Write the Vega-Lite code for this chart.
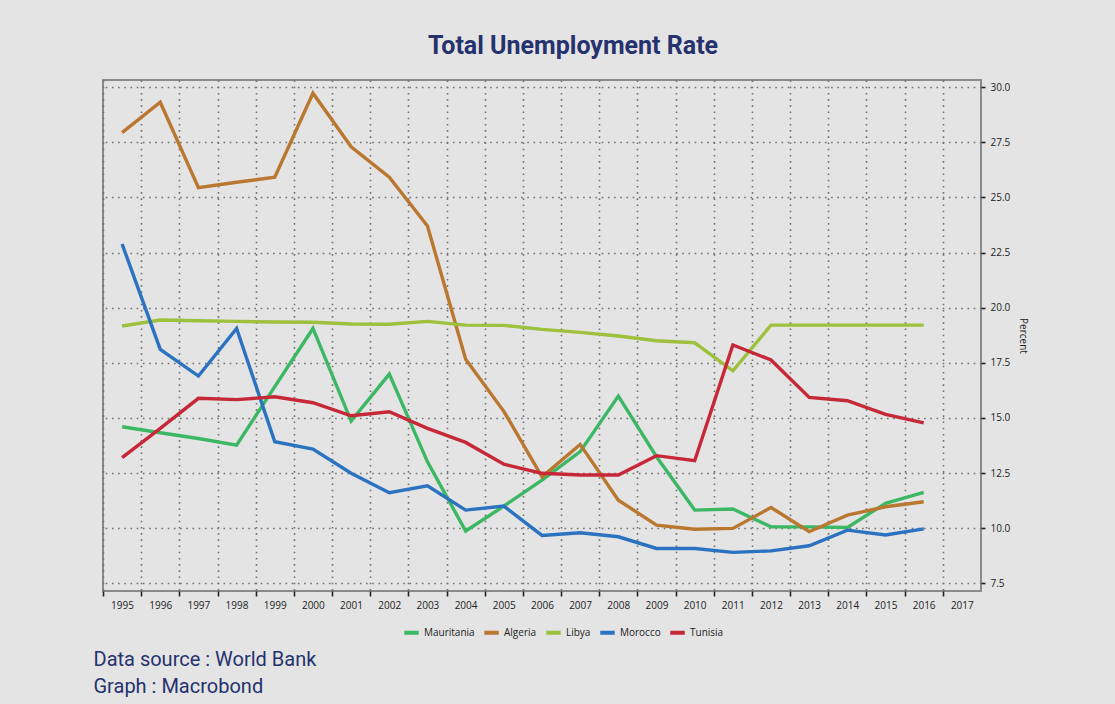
{
  "$schema": "https://vega.github.io/schema/vega-lite/v6.json",
  "autosize": "none",
  "width": 878,
  "height": 511,
  "padding": {"left": 103, "top": 80, "right": 134, "bottom": 113},
  "background": "#e4e4e4",
  "title": {
    "text": "Total Unemployment Rate",
    "font": "Roboto",
    "fontSize": 25,
    "fontWeight": "bold",
    "color": "#25326e",
    "anchor": "middle",
    "frame": "group",
    "dx": 31,
    "offset": 21
  },
  "data": {
    "values": [
      {"country": "Mauritania", "year": 1995, "rate": 14.6},
      {"country": "Mauritania", "year": 1996, "rate": 14.33},
      {"country": "Mauritania", "year": 1997, "rate": 14.07},
      {"country": "Mauritania", "year": 1998, "rate": 13.77},
      {"country": "Mauritania", "year": 1999, "rate": 16.42},
      {"country": "Mauritania", "year": 2000, "rate": 19.06},
      {"country": "Mauritania", "year": 2001, "rate": 14.86},
      {"country": "Mauritania", "year": 2002, "rate": 16.99},
      {"country": "Mauritania", "year": 2003, "rate": 13.01},
      {"country": "Mauritania", "year": 2004, "rate": 9.87},
      {"country": "Mauritania", "year": 2005, "rate": 11.0},
      {"country": "Mauritania", "year": 2006, "rate": 12.18},
      {"country": "Mauritania", "year": 2007, "rate": 13.47},
      {"country": "Mauritania", "year": 2008, "rate": 15.99},
      {"country": "Mauritania", "year": 2009, "rate": 13.24},
      {"country": "Mauritania", "year": 2010, "rate": 10.82},
      {"country": "Mauritania", "year": 2011, "rate": 10.87},
      {"country": "Mauritania", "year": 2012, "rate": 10.06},
      {"country": "Mauritania", "year": 2013, "rate": 10.06},
      {"country": "Mauritania", "year": 2014, "rate": 10.03},
      {"country": "Mauritania", "year": 2015, "rate": 11.13},
      {"country": "Mauritania", "year": 2016, "rate": 11.62},

      {"country": "Algeria", "year": 1995, "rate": 27.94},
      {"country": "Algeria", "year": 1996, "rate": 29.32},
      {"country": "Algeria", "year": 1997, "rate": 25.45},
      {"country": "Algeria", "year": 1998, "rate": 25.69},
      {"country": "Algeria", "year": 1999, "rate": 25.92},
      {"country": "Algeria", "year": 2000, "rate": 29.73},
      {"country": "Algeria", "year": 2001, "rate": 27.3},
      {"country": "Algeria", "year": 2002, "rate": 25.92},
      {"country": "Algeria", "year": 2003, "rate": 23.71},
      {"country": "Algeria", "year": 2004, "rate": 17.66},
      {"country": "Algeria", "year": 2005, "rate": 15.3},
      {"country": "Algeria", "year": 2006, "rate": 12.33},
      {"country": "Algeria", "year": 2007, "rate": 13.8},
      {"country": "Algeria", "year": 2008, "rate": 11.27},
      {"country": "Algeria", "year": 2009, "rate": 10.14},
      {"country": "Algeria", "year": 2010, "rate": 9.95},
      {"country": "Algeria", "year": 2011, "rate": 9.99},
      {"country": "Algeria", "year": 2012, "rate": 10.94},
      {"country": "Algeria", "year": 2013, "rate": 9.84},
      {"country": "Algeria", "year": 2014, "rate": 10.59},
      {"country": "Algeria", "year": 2015, "rate": 10.97},
      {"country": "Algeria", "year": 2016, "rate": 11.2},

      {"country": "Libya", "year": 1995, "rate": 19.17},
      {"country": "Libya", "year": 1996, "rate": 19.44},
      {"country": "Libya", "year": 1997, "rate": 19.41},
      {"country": "Libya", "year": 1998, "rate": 19.38},
      {"country": "Libya", "year": 1999, "rate": 19.35},
      {"country": "Libya", "year": 2000, "rate": 19.34},
      {"country": "Libya", "year": 2001, "rate": 19.26},
      {"country": "Libya", "year": 2002, "rate": 19.25},
      {"country": "Libya", "year": 2003, "rate": 19.38},
      {"country": "Libya", "year": 2004, "rate": 19.21},
      {"country": "Libya", "year": 2005, "rate": 19.2},
      {"country": "Libya", "year": 2006, "rate": 19.02},
      {"country": "Libya", "year": 2007, "rate": 18.88},
      {"country": "Libya", "year": 2008, "rate": 18.72},
      {"country": "Libya", "year": 2009, "rate": 18.5},
      {"country": "Libya", "year": 2010, "rate": 18.41},
      {"country": "Libya", "year": 2011, "rate": 17.14},
      {"country": "Libya", "year": 2012, "rate": 19.21},
      {"country": "Libya", "year": 2013, "rate": 19.21},
      {"country": "Libya", "year": 2014, "rate": 19.21},
      {"country": "Libya", "year": 2015, "rate": 19.21},
      {"country": "Libya", "year": 2016, "rate": 19.21},

      {"country": "Morocco", "year": 1995, "rate": 22.89},
      {"country": "Morocco", "year": 1996, "rate": 18.11},
      {"country": "Morocco", "year": 1997, "rate": 16.9},
      {"country": "Morocco", "year": 1998, "rate": 19.06},
      {"country": "Morocco", "year": 1999, "rate": 13.92},
      {"country": "Morocco", "year": 2000, "rate": 13.59},
      {"country": "Morocco", "year": 2001, "rate": 12.49},
      {"country": "Morocco", "year": 2002, "rate": 11.61},
      {"country": "Morocco", "year": 2003, "rate": 11.92},
      {"country": "Morocco", "year": 2004, "rate": 10.82},
      {"country": "Morocco", "year": 2005, "rate": 11.0},
      {"country": "Morocco", "year": 2006, "rate": 9.67},
      {"country": "Morocco", "year": 2007, "rate": 9.79},
      {"country": "Morocco", "year": 2008, "rate": 9.61},
      {"country": "Morocco", "year": 2009, "rate": 9.08},
      {"country": "Morocco", "year": 2010, "rate": 9.08},
      {"country": "Morocco", "year": 2011, "rate": 8.9},
      {"country": "Morocco", "year": 2012, "rate": 8.97},
      {"country": "Morocco", "year": 2013, "rate": 9.2},
      {"country": "Morocco", "year": 2014, "rate": 9.91},
      {"country": "Morocco", "year": 2015, "rate": 9.69},
      {"country": "Morocco", "year": 2016, "rate": 9.97},

      {"country": "Tunisia", "year": 1995, "rate": 13.2},
      {"country": "Tunisia", "year": 1996, "rate": 14.53},
      {"country": "Tunisia", "year": 1997, "rate": 15.89},
      {"country": "Tunisia", "year": 1998, "rate": 15.83},
      {"country": "Tunisia", "year": 1999, "rate": 15.96},
      {"country": "Tunisia", "year": 2000, "rate": 15.69},
      {"country": "Tunisia", "year": 2001, "rate": 15.1},
      {"country": "Tunisia", "year": 2002, "rate": 15.28},
      {"country": "Tunisia", "year": 2003, "rate": 14.53},
      {"country": "Tunisia", "year": 2004, "rate": 13.89},
      {"country": "Tunisia", "year": 2005, "rate": 12.9},
      {"country": "Tunisia", "year": 2006, "rate": 12.49},
      {"country": "Tunisia", "year": 2007, "rate": 12.41},
      {"country": "Tunisia", "year": 2008, "rate": 12.41},
      {"country": "Tunisia", "year": 2009, "rate": 13.29},
      {"country": "Tunisia", "year": 2010, "rate": 13.06},
      {"country": "Tunisia", "year": 2011, "rate": 18.31},
      {"country": "Tunisia", "year": 2012, "rate": 17.63},
      {"country": "Tunisia", "year": 2013, "rate": 15.93},
      {"country": "Tunisia", "year": 2014, "rate": 15.78},
      {"country": "Tunisia", "year": 2015, "rate": 15.16},
      {"country": "Tunisia", "year": 2016, "rate": 14.78}
    ]
  },
  "mark": {"type": "line", "strokeWidth": 3.4, "strokeJoin": "miter", "strokeCap": "butt"},
  "encoding": {
    "x": {
      "field": "year",
      "type": "quantitative",
      "scale": {"domain": [1994.5, 2017.5], "nice": false, "zero": false},
      "axis": {
        "values": [1994.5, 1995.5, 1996.5, 1997.5, 1998.5, 1999.5, 2000.5, 2001.5, 2002.5, 2003.5, 2004.5, 2005.5, 2006.5, 2007.5, 2008.5, 2009.5, 2010.5, 2011.5, 2012.5, 2013.5, 2014.5, 2015.5, 2016.5],
        "labelExpr": "format(datum.value + 0.5, 'd')",
        "labelOffset": 19,
        "labelFlush": false,
        "labelOverlap": false,
        "labelBound": false,
        "labelPadding": 4,
        "tickSize": 5,
        "title": ["Data source : World Bank", "Graph : Macrobond"],
        "titleFont": "Roboto",
        "titleFontSize": 20,
        "titleFontWeight": "normal",
        "titleColor": "#25326e",
        "titleAnchor": "start",
        "titleAlign": "left",
        "titleBaseline": "top",
        "titleLineHeight": 27,
        "titleX": -10,
        "titleY": 58
      }
    },
    "y": {
      "field": "rate",
      "type": "quantitative",
      "scale": {"domain": [7.15, 30.33], "nice": false, "zero": false},
      "axis": {
        "orient": "right",
        "values": [7.5, 10, 12.5, 15, 17.5, 20, 22.5, 25, 27.5, 30],
        "format": ".1f",
        "tickSize": 4,
        "labelPadding": 5,
        "labelFlush": false,
        "title": "Percent",
        "titleFont": "Open Sans",
        "titleFontSize": 10,
        "titleFontWeight": "normal",
        "titleColor": "#222222",
        "titlePadding": 8
      }
    },
    "color": {
      "field": "country",
      "type": "nominal",
      "scale": {
        "domain": ["Mauritania", "Algeria", "Libya", "Morocco", "Tunisia"],
        "range": ["#3cb865", "#b9772f", "#9dc03d", "#2b72c0", "#c62838"]
      },
      "legend": {
        "title": null,
        "orient": "none",
        "direction": "horizontal",
        "legendX": 299,
        "legendY": 543,
        "symbolType": "stroke",
        "symbolStrokeWidth": 4,
        "symbolSize": 210,
        "labelFont": "Open Sans",
        "labelFontSize": 10,
        "labelColor": "#222222",
        "columnPadding": 1,
        "labelOffset": 3
      }
    }
  },
  "config": {
    "view": {"stroke": "#8a8a8a", "strokeWidth": 2},
    "axis": {
      "domain": false,
      "grid": true,
      "gridColor": "#707070",
      "gridDash": [1.6, 4.6],
      "gridWidth": 1.6,
      "tickColor": "#222222",
      "tickWidth": 1.6,
      "labelFont": "Open Sans",
      "labelFontSize": 10,
      "labelColor": "#222222"
    }
  }
}
